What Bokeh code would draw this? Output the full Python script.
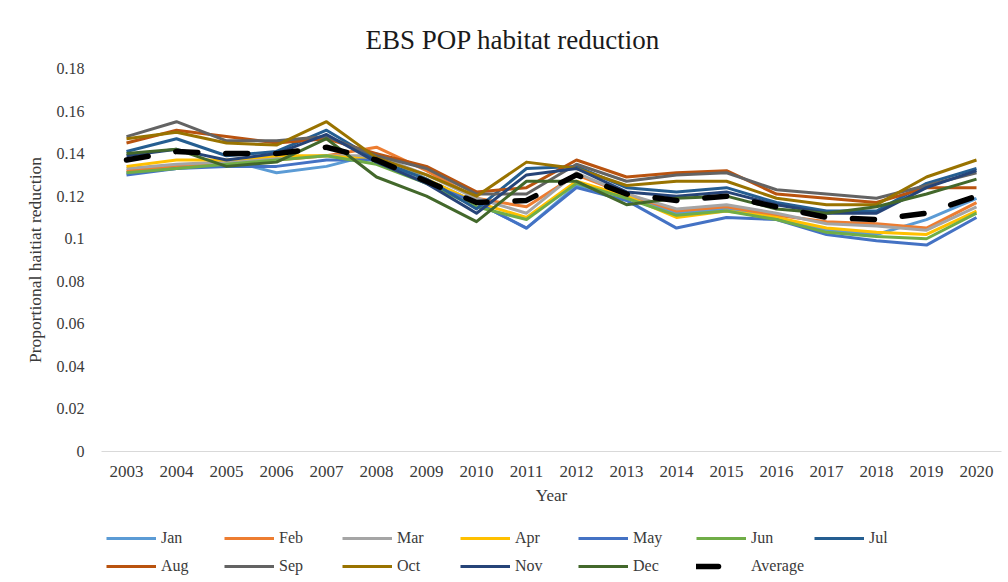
from bokeh.plotting import figure
from bokeh.layouts import column
from bokeh.models import FactorRange, Range1d, FixedTicker, Legend, LegendItem
from bokeh.embed import file_html
from bokeh.resources import INLINE

# Survey years
years = [str(y) for y in range(2003, 2021)]

# Proportional habitat reduction by month
jan = [0.131, 0.133, 0.137, 0.131, 0.134, 0.140, 0.128, 0.117, 0.105, 0.125, 0.120, 0.112, 0.114, 0.110, 0.104, 0.102, 0.109, 0.119]
feb = [0.132, 0.134, 0.136, 0.137, 0.139, 0.143, 0.132, 0.119, 0.115, 0.130, 0.121, 0.113, 0.115, 0.111, 0.108, 0.107, 0.105, 0.117]
mar = [0.133, 0.135, 0.136, 0.138, 0.139, 0.139, 0.130, 0.119, 0.112, 0.131, 0.121, 0.114, 0.116, 0.112, 0.107, 0.106, 0.104, 0.115]
apr = [0.134, 0.137, 0.137, 0.139, 0.139, 0.137, 0.128, 0.117, 0.110, 0.127, 0.120, 0.110, 0.113, 0.110, 0.105, 0.103, 0.102, 0.113]
may = [0.130, 0.133, 0.134, 0.134, 0.137, 0.137, 0.126, 0.117, 0.105, 0.124, 0.118, 0.105, 0.110, 0.109, 0.102, 0.099, 0.097, 0.110]
jun = [0.131, 0.133, 0.135, 0.137, 0.139, 0.135, 0.126, 0.115, 0.109, 0.126, 0.119, 0.111, 0.113, 0.109, 0.103, 0.101, 0.100, 0.112]
jul = [0.141, 0.147, 0.139, 0.141, 0.151, 0.137, 0.128, 0.114, 0.133, 0.134, 0.124, 0.122, 0.124, 0.117, 0.113, 0.113, 0.126, 0.133]
aug = [0.145, 0.151, 0.148, 0.145, 0.147, 0.140, 0.134, 0.122, 0.124, 0.137, 0.129, 0.131, 0.132, 0.121, 0.119, 0.117, 0.124, 0.124]
sep = [0.148, 0.155, 0.146, 0.146, 0.148, 0.139, 0.133, 0.121, 0.121, 0.135, 0.127, 0.130, 0.131, 0.123, 0.121, 0.119, 0.125, 0.131]
oct_ = [0.147, 0.150, 0.145, 0.144, 0.155, 0.138, 0.130, 0.120, 0.136, 0.133, 0.125, 0.127, 0.127, 0.119, 0.116, 0.116, 0.129, 0.137]
nov = [0.139, 0.142, 0.137, 0.140, 0.149, 0.136, 0.126, 0.112, 0.130, 0.133, 0.122, 0.120, 0.122, 0.116, 0.112, 0.112, 0.124, 0.132]
dec = [0.140, 0.142, 0.134, 0.136, 0.147, 0.129, 0.120, 0.108, 0.127, 0.127, 0.116, 0.119, 0.120, 0.114, 0.112, 0.115, 0.121, 0.128]
average = [0.137, 0.141, 0.140, 0.140, 0.143, 0.137, 0.127, 0.117, 0.118, 0.130, 0.121, 0.118, 0.120, 0.115, 0.110, 0.109, 0.112, 0.120]

month_names = ["Jan", "Feb", "Mar", "Apr", "May", "Jun", "Jul", "Aug", "Sep", "Oct", "Nov", "Dec"]
month_values = [jan, feb, mar, apr, may, jun, jul, aug, sep, oct_, nov, dec]
month_colors = ["#5B9BD5", "#ED7D31", "#A5A5A5", "#FFC000", "#4472C4", "#70AD47",
                "#255E91", "#B9530F", "#636363", "#997300", "#264478", "#43682B"]

y_ticks = [0, 0.02, 0.04, 0.06, 0.08, 0.1, 0.12, 0.14, 0.16, 0.18]
y_tick_labels = ["0", "0.02", "0.04", "0.06", "0.08", "0.1", "0.12", "0.14", "0.16", "0.18"]

SERIF = "Liberation Serif"
TEXT = "#3a3a3a"
MONTH_WIDTH = 3
AVG_STYLE = dict(line_color="black", line_width=5.5, line_dash="22 28",
                 line_cap="round", line_join="round")

p = figure(
    width=1008, height=510,
    x_range=FactorRange(factors=years, range_padding=0),
    y_range=Range1d(0, 0.18),
    output_backend="svg", toolbar_location=None,
    min_border_left=101, min_border_right=7,
    min_border_top=68, min_border_bottom=59,
    title="EBS POP habitat reduction",
)
p.outline_line_color = None
p.background_fill_color = "white"
p.border_fill_color = "white"
p.xgrid.grid_line_color = None
p.ygrid.grid_line_color = None

p.title.text_font = SERIF
p.title.text_font_size = "27px"
p.title.text_font_style = "normal"
p.title.text_color = "#1a1a1a"
p.title.align = "left"
p.title.offset = 264
p.title.standoff = 28

# y axis
p.yaxis.ticker = FixedTicker(ticks=y_ticks)
p.yaxis.major_label_overrides = dict(zip(y_ticks, y_tick_labels))
p.yaxis.axis_line_color = None
p.yaxis.major_tick_line_color = None
p.yaxis.minor_tick_line_color = None
p.yaxis.major_label_text_font = SERIF
p.yaxis.major_label_text_font_size = "16px"
p.yaxis.major_label_text_color = TEXT
p.yaxis.major_label_standoff = 11
p.yaxis.axis_label = "Proportional haitiat reduction"
p.yaxis.axis_label_text_font = SERIF
p.yaxis.axis_label_text_font_size = "17.5px"
p.yaxis.axis_label_text_font_style = "normal"
p.yaxis.axis_label_text_color = TEXT
p.yaxis.axis_label_standoff = 9

# x axis
p.xaxis.axis_line_color = "#d9d9d9"
p.xaxis.axis_line_width = 1
p.xaxis.major_tick_line_color = None
p.xaxis.minor_tick_line_color = None
p.xaxis.major_label_text_font = SERIF
p.xaxis.major_label_text_font_size = "17px"
p.xaxis.major_label_text_color = TEXT
p.xaxis.major_label_standoff = 8
p.xaxis.axis_label = "Year"
p.xaxis.axis_label_text_font = SERIF
p.xaxis.axis_label_text_font_size = "17px"
p.xaxis.axis_label_text_font_style = "normal"
p.xaxis.axis_label_text_color = TEXT
p.xaxis.axis_label_standoff = 6

for vals, color in zip(month_values, month_colors):
    p.line(years, vals, line_color=color, line_width=MONTH_WIDTH, line_join="round")
p.line(years, average, **AVG_STYLE)

# Legend strip underneath the chart; its swatch lines sit outside the visible range
leg_fig = figure(
    width=1008, height=72,
    x_range=Range1d(0, 1), y_range=Range1d(0, 1),
    x_axis_type=None, y_axis_type=None,
    output_backend="svg", toolbar_location=None,
    min_border=0,
)
leg_fig.outline_line_color = None
leg_fig.xgrid.grid_line_color = None
leg_fig.ygrid.grid_line_color = None

off_x = [5, 6]
off_y = [5, 6]
items = []
for name, color in zip(month_names, month_colors):
    r = leg_fig.line(off_x, off_y, line_color=color, line_width=MONTH_WIDTH)
    items.append(LegendItem(label=name, renderers=[r]))
r_avg = leg_fig.line(off_x, off_y, **AVG_STYLE)
items.append(LegendItem(label="Average", renderers=[r_avg]))

legend = Legend(
    items=items, orientation="horizontal", ncols=7,
    location=(5, 6),
    glyph_width=50, glyph_height=20,
    label_width=55, label_height=20, label_standoff=5,
    spacing=8, padding=0, margin=0,
    label_text_font=SERIF, label_text_font_size="16px", label_text_color=TEXT,
    border_line_color=None, background_fill_alpha=0,
)
leg_fig.add_layout(legend, "center")

layout = column(p, leg_fig, spacing=0)
open("out.html", "w").write(file_html(layout, INLINE))
